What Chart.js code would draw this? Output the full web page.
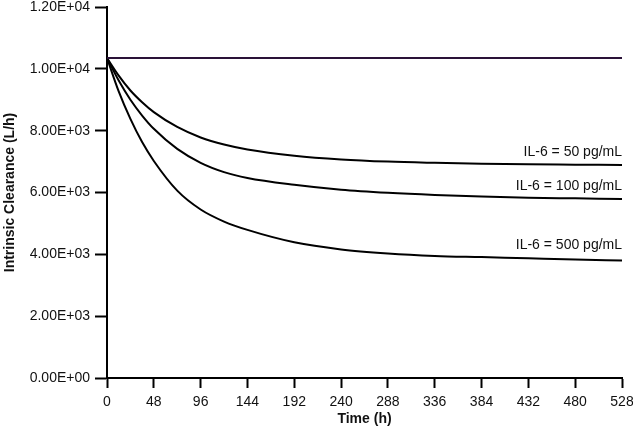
<!DOCTYPE html>
<html>
<head>
<meta charset="utf-8">
<script src="https://cdn.jsdelivr.net/npm/chart.js@4/dist/chart.umd.min.js"></script>
<style>
  html, body { margin: 0; padding: 0; background: #fff; }
  #wrap { width: 633px; height: 434px; }
</style>
</head>
<body>
<div id="wrap"><canvas id="clearance-chart"></canvas></div>
<script>
// time points (h) and clearance values (L/h)
const hours = [0, 12, 24, 36, 48, 72, 96, 120, 144, 192, 240, 288, 336, 384, 432, 480, 528];
const baseline = [10350, 10350, 10350, 10350, 10350, 10350, 10350, 10350, 10350, 10350, 10350, 10350, 10350, 10350, 10350, 10350, 10350];
const il6_50 = [10350, 9780, 9300, 8920, 8600, 8120, 7780, 7550, 7390, 7190, 7070, 7000, 6960, 6930, 6910, 6900, 6890];
const il6_100 = [10350, 9620, 9000, 8490, 8060, 7410, 6960, 6660, 6470, 6250, 6090, 5990, 5920, 5870, 5830, 5810, 5790];
const il6_500 = [10350, 9270, 8380, 7630, 7020, 6060, 5450, 5060, 4790, 4390, 4160, 4030, 3950, 3910, 3870, 3830, 3800];
const seriesLabels = ["IL-6 = 50 pg/mL", "IL-6 = 100 pg/mL", "IL-6 = 500 pg/mL"];
const xTicks = [0, 48, 96, 144, 192, 240, 288, 336, 384, 432, 480, 528];

const FONT = "'Liberation Sans', Arial, sans-serif";

function pts(vals) {
  return hours.map((h, i) => ({ x: h, y: vals[i] }));
}

function sciLabel(v) {
  const s = Number(v).toExponential(2).toUpperCase();
  const parts = s.split("E");
  const sign = parts[1][0];
  let exp = parts[1].slice(1);
  if (exp.length < 2) exp = "0" + exp;
  return parts[0] + "E" + sign + exp;
}

// writes the IL-6 labels above the right end of each curve
const endLabels = {
  id: "endLabels",
  afterDatasetsDraw(chart) {
    const ctx = chart.ctx;
    const xs = chart.scales.x;
    const ys = chart.scales.y;
    const series = [il6_50, il6_100, il6_500];
    const lift = [6, 6, 8];
    ctx.save();
    ctx.font = "14px " + FONT;
    ctx.fillStyle = "#111";
    ctx.textAlign = "right";
    ctx.textBaseline = "bottom";
    series.forEach((s, i) => {
      const y = ys.getPixelForValue(s[s.length - 1]);
      ctx.fillText(seriesLabels[i], xs.getPixelForValue(hours[hours.length - 1]), y - lift[i]);
    });
    ctx.restore();
  }
};

const lineStyle = {
  borderWidth: 2,
  pointRadius: 0,
  fill: false,
  cubicInterpolationMode: "monotone"
};

const ctx = document.getElementById("clearance-chart").getContext("2d");
new Chart(ctx, {
  type: "line",
  data: {
    datasets: [
      Object.assign({ data: pts(baseline), borderColor: "#2a1238" }, lineStyle),
      Object.assign({ data: pts(il6_50), borderColor: "#000" }, lineStyle),
      Object.assign({ data: pts(il6_100), borderColor: "#000" }, lineStyle),
      Object.assign({ data: pts(il6_500), borderColor: "#000" }, lineStyle)
    ]
  },
  options: {
    responsive: true,
    maintainAspectRatio: false,
    animation: false,
    layout: {
      padding: { left: 0, right: 11, top: 7, bottom: 0 }
    },
    scales: {
      x: {
        type: "linear",
        min: 0,
        max: 528,
        afterFit: (scale) => { scale.height = 56; scale.paddingLeft = 0; scale.paddingRight = 0; },
        afterBuildTicks: (scale) => { scale.ticks = xTicks.map(v => ({ value: v })); },
        grid: {
          display: true,
          drawOnChartArea: false,
          drawTicks: true,
          tickLength: 10,
          tickWidth: 2,
          tickColor: "#000"
        },
        border: { display: true, color: "#000", width: 2 },
        ticks: {
          color: "#111",
          padding: 6,
          maxRotation: 0,
          autoSkip: false,
          font: { family: FONT, size: 14 }
        },
        title: {
          display: true,
          text: "Time (h)",
          color: "#111",
          padding: { top: 0, bottom: 6 },
          font: { family: FONT, size: 14, weight: "bold" }
        }
      },
      y: {
        min: 0,
        max: 12000,
        afterFit: (scale) => { scale.width = 107; scale.paddingTop = 0; scale.paddingBottom = 0; },
        grid: {
          display: true,
          drawOnChartArea: false,
          drawTicks: true,
          tickLength: 12,
          tickWidth: 2,
          tickColor: "#000"
        },
        border: { display: true, color: "#000", width: 2 },
        ticks: {
          stepSize: 2000,
          color: "#111",
          padding: 5,
          font: { family: FONT, size: 14 },
          callback: (v) => sciLabel(v)
        },
        title: {
          display: true,
          text: "Intrinsic Clearance (L/h)",
          color: "#111",
          padding: { top: 2, bottom: 0 },
          font: { family: FONT, size: 14, weight: "bold" }
        }
      }
    },
    plugins: {
      legend: { display: false },
      tooltip: { enabled: false }
    }
  },
  plugins: [endLabels]
});
</script>
</body>
</html>
